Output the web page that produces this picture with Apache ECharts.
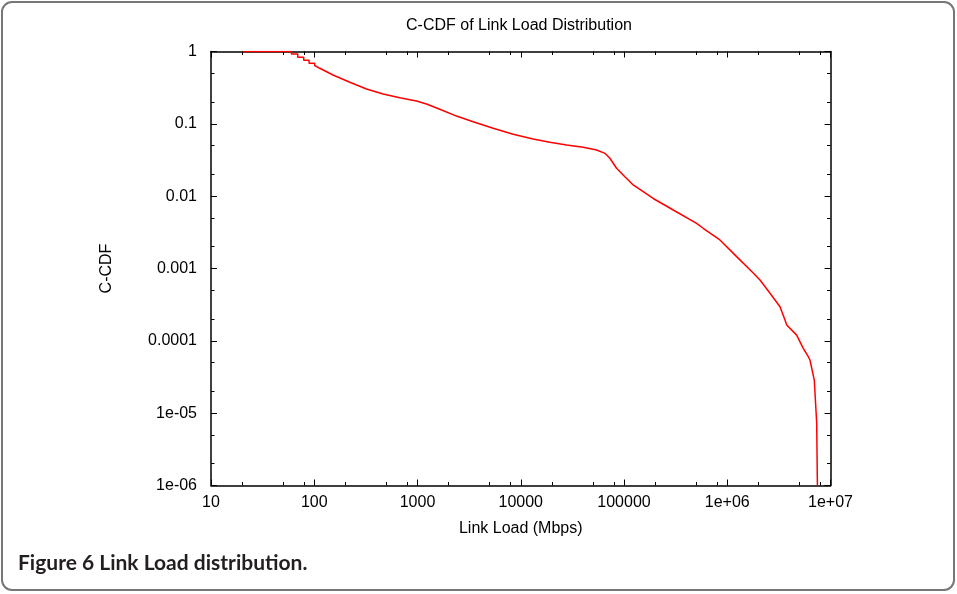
<!DOCTYPE html>
<html>
<head>
<meta charset="utf-8">
<script src="https://cdn.jsdelivr.net/npm/echarts@6/dist/echarts.min.js"></script>
<style>
  html, body { margin: 0; padding: 0; background: #fff; }
  #chart { width: 957px; height: 594px; }
</style>
</head>
<body>
<div id="chart"></div>
<script>
// link load (Mbps) and complementary CDF
const loadMbps = [
  20.3, 60.1, 60.1, 69.2, 69.2, 79.1, 79.1, 89.1, 89.1, 101,
  101, 113, 152, 221, 321, 464, 674, 977, 1222, 1644,
  2387, 3458, 5408, 8433, 13180, 19140, 27790, 40270, 54330, 65360,
  72980, 84720, 102000, 122800, 191900, 299900, 504900, 584600, 849300, 1233000,
  1786000, 2075000, 2594000, 3243000, 3625000, 3768000, 4701000, 5446000, 6095000, 6324000,
  6966000, 7350000, 7450000, 7470000
];
const ccdf = [
  1, 1, 0.923, 0.923, 0.831, 0.831, 0.756, 0.756, 0.687, 0.687,
  0.640, 0.586, 0.473, 0.375, 0.303, 0.258, 0.230, 0.207, 0.188, 0.159,
  0.128, 0.107, 0.0867, 0.0717, 0.0617, 0.0556, 0.0510, 0.0474, 0.0435, 0.0391,
  0.0334, 0.0243, 0.0186, 0.0143, 0.00929, 0.00644, 0.00421, 0.00360, 0.00248, 0.00146,
  0.000866, 0.000693, 0.000454, 0.000296, 0.000194, 0.000166, 0.000120, 0.0000788, 0.0000603, 0.0000543,
  0.0000287, 0.00000724, 0.00000132, 0.000001
];
const xTickLabels = ['10', '100', '1000', '10000', '100000', '1e+06', '1e+07'];
const yTickLabels = ['1e-06', '1e-05', '0.0001', '0.001', '0.01', '0.1', '1'];
const xMinorTicks = [20, 50, 80, 200, 500, 800, 2000, 5000, 8000, 20000, 50000, 80000,
  200000, 500000, 800000, 2000000, 5000000, 8000000];
const yMinorTicks = [0.000002, 0.000005, 0.00002, 0.00005, 0.0002, 0.0005,
  0.002, 0.005, 0.02, 0.05, 0.2, 0.5];

const chart = echarts.init(document.getElementById('chart'));

const font = 'Liberation Sans, Arial, sans-serif';
const labelStyle = { fontFamily: font, fontSize: 16, color: '#000' };

// one log axis; extra copies carry the mirrored and minor ticks
function logAxis(pos, min, max, extra) {
  return Object.assign({
    type: 'log',
    logBase: 10,
    position: pos,
    min: min,
    max: max,
    axisLine: { show: true, onZero: false, lineStyle: { color: '#000', width: 1.5 } },
    axisTick: { show: true, inside: true, length: 6, lineStyle: { color: '#000', width: 1 } },
    axisLabel: { show: false },
    splitLine: { show: false }
  }, extra || {});
}
function minorAxis(pos, min, max, values) {
  return logAxis(pos, min, max, {
    axisLine: { show: false },
    axisTick: { show: true, inside: true, length: 3.5, customValues: values, lineStyle: { color: '#000', width: 1 } }
  });
}

const option = {
  animation: false,
  grid: { left: 211, top: 51.5, right: 126.5, bottom: 108.5, containLabel: false },
  graphic: [
    {
      type: 'rect',
      shape: { x: 2, y: 2, width: 952, height: 588, r: 10 },
      style: { fill: 'none', stroke: '#777', lineWidth: 2 }
    },
    {
      type: 'text',
      x: 519, y: 18,
      style: { text: 'C-CDF of Link Load Distribution', font: '16px ' + font, fill: '#000', align: 'center', verticalAlign: 'top' }
    },
    {
      type: 'text',
      x: 18, y: 553,
      style: { text: 'Figure 6 Link Load distribution.', font: 'bold 21px Lato, "Open Sans", sans-serif', fill: '#231f20', verticalAlign: 'top' }
    }
  ],
  xAxis: [
    logAxis('bottom', 10, 10000000, {
      name: 'Link Load (Mbps)',
      nameLocation: 'middle',
      nameGap: 35,
      nameTextStyle: labelStyle,
      axisLabel: Object.assign({
        show: true, margin: 9,
        formatter: v => xTickLabels[Math.round(Math.log10(v)) - 1]
      }, labelStyle)
    }),
    logAxis('top', 10, 10000000),
    minorAxis('bottom', 10, 10000000, xMinorTicks),
    minorAxis('top', 10, 10000000, xMinorTicks)
  ],
  yAxis: [
    logAxis('left', 0.000001, 1, {
      name: 'C-CDF',
      nameLocation: 'middle',
      nameGap: 96,
      nameRotate: 90,
      nameTextStyle: labelStyle,
      axisLabel: Object.assign({
        show: true, margin: 14,
        formatter: v => yTickLabels[Math.round(Math.log10(v)) + 6]
      }, labelStyle)
    }),
    logAxis('right', 0.000001, 1),
    minorAxis('left', 0.000001, 1, yMinorTicks),
    minorAxis('right', 0.000001, 1, yMinorTicks)
  ],
  series: [
    {
      type: 'line',
      xAxisIndex: 0,
      yAxisIndex: 0,
      showSymbol: false,
      symbol: 'none',
      lineStyle: { color: '#ff0000', width: 1.5 },
      data: loadMbps.map((x, i) => [x, ccdf[i]])
    }
  ]
};

chart.setOption(option);
</script>
</body>
</html>
